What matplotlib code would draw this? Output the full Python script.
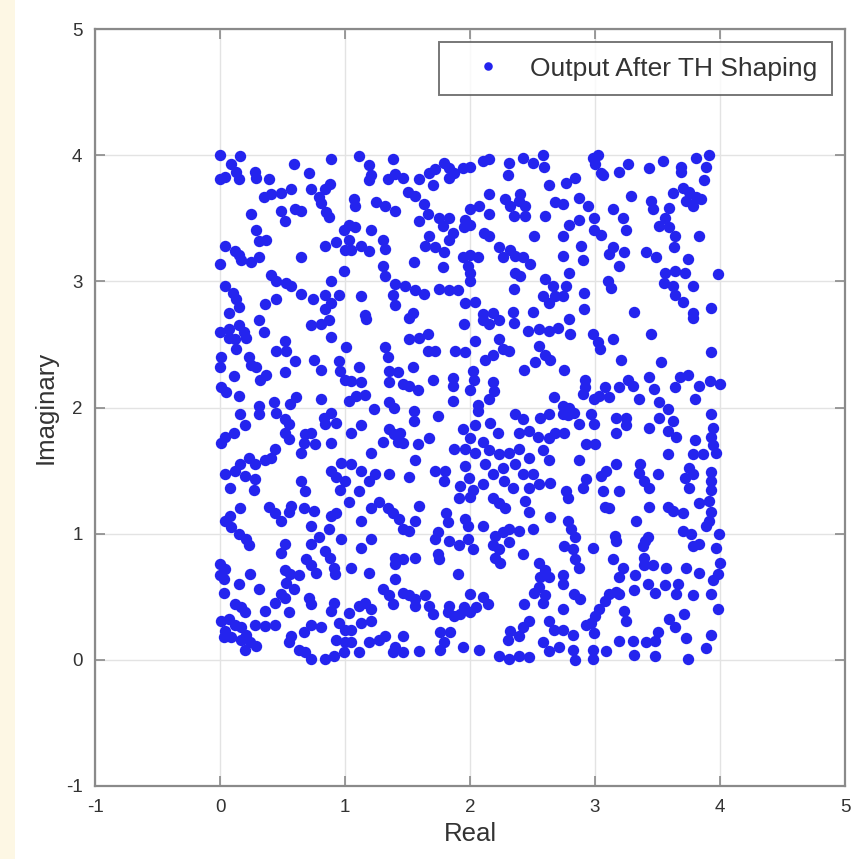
import numpy as np
import matplotlib
matplotlib.use("Agg")
import matplotlib.pyplot as plt
from matplotlib.patches import Rectangle

# ---------------- data (grouped by region) ----------------
re_t1 = [0.00,0.16,0.09,0.13,0.04,0.00,0.15,0.28,0.29,0.39,0.59,0.71,0.89,1.11,1.19,1.21,1.19,0.88,0.84,
         0.73,0.79,0.81,0.85,0.87,0.57,0.49,0.41,0.35,1.07,1.08,1.25,0.25,0.49,0.52,0.60,0.65,0.29,0.37,0.31,
         0.04,0.12,0.15,0.17,0.25,0.31,0.00,0.65,0.84,0.93,0.99,1.03,1.08,1.03,1.05,1.00,1.13,1.19,1.21,0.99,
         0.41,0.45,0.53,0.57,0.04,0.10,0.13,0.15,0.07,0.36,0.45,0.65,0.74,0.84,0.89,0.95,0.89,0.84,1.13,1.16]
im_t1 = [4.00,3.99,3.93,3.87,3.83,3.81,3.81,3.87,3.82,3.81,3.93,3.86,3.97,3.99,3.92,3.84,3.80,3.77,3.73,
         3.73,3.67,3.62,3.55,3.51,3.73,3.70,3.69,3.67,3.65,3.60,3.63,3.53,3.56,3.48,3.57,3.56,3.41,3.33,3.32,
         3.28,3.24,3.21,3.17,3.15,3.19,3.14,3.19,3.28,3.31,3.41,3.45,3.43,3.33,3.25,3.25,3.28,3.24,3.41,3.08,
         3.05,3.00,2.99,2.96,2.96,2.91,2.86,2.80,2.75,2.82,2.86,2.90,2.86,2.89,2.83,2.89,3.00,2.78,2.88,2.73]

re_t2 = [1.38,1.34,1.40,1.46,1.32,1.40,1.59,1.67,1.72,1.79,1.83,1.87,1.94,2.00,2.10,2.15,1.70,1.83,
         2.31,2.42,2.50,2.58,2.59,2.30,1.50,1.56,1.63,2.15,2.28,2.32,2.35,2.39,2.44,2.44,2.40,2.63,2.60,2.68,
         1.59,1.66,1.75,1.83,1.78,1.86,1.67,1.64,1.72,1.79,1.83,1.96,2.00,2.07,2.15,1.95,2.00,2.11,2.15,2.51,
         1.30,1.32,1.55,1.94,2.00,2.06,1.98,2.00,2.00,2.23,2.26,2.32,2.36,2.42,2.48,1.78,2.36,2.40,2.35,
         2.60,2.66,2.58,2.63,2.68,1.30,1.32,1.40,1.48,1.56,1.63,1.38,1.40,1.75,1.83,1.90,1.96,2.04,1.54,
         2.10,2.18,2.34,2.50]
im_t2 = [3.97,3.81,3.85,3.82,3.60,3.56,3.81,3.86,3.89,3.94,3.90,3.86,3.90,3.91,3.95,3.97,3.76,3.82,
         3.94,3.98,3.94,4.00,3.91,3.84,3.71,3.68,3.61,3.69,3.65,3.60,3.52,3.64,3.60,3.52,3.69,3.76,3.52,3.63,
         3.48,3.53,3.50,3.50,3.44,3.38,3.36,3.28,3.27,3.23,3.33,3.49,3.57,3.60,3.53,3.43,3.45,3.38,3.36,3.36,
         3.33,3.26,3.15,3.19,3.21,3.19,3.12,3.07,3.00,3.27,3.19,3.25,3.20,3.19,3.14,3.11,3.07,3.04,2.94,
         3.02,2.96,2.88,2.83,2.88,3.12,3.04,2.98,2.96,2.93,2.90,2.89,2.81,2.94,2.93,2.93,2.83,2.84,2.75,
         2.74,2.75,2.76,2.76]

re_t3 = [2.98,3.02,3.00,3.05,3.06,3.19,3.26,3.43,3.54,3.69,3.69,3.81,3.91,3.89,3.87,3.70,3.75,3.81,3.85,
         3.73,3.78,3.62,2.77,2.84,2.74,2.87,2.94,3.29,3.14,3.45,3.46,3.59,3.22,3.25,3.56,3.51,3.59,3.64,3.63,
         3.83,2.79,2.87,2.99,2.74,2.99,3.05,2.89,2.90,3.14,3.11,3.23,3.19,3.41,3.49,3.74,2.74,2.79,2.77,2.74,
         3.10,3.13,3.56,3.64,3.72,3.55,3.62,3.78,3.64,3.70,3.98,2.91,2.91,3.31,3.78,3.93]
im_t3 = [3.98,4.00,3.93,3.86,3.84,3.87,3.93,3.90,3.95,3.91,3.87,3.98,4.00,3.91,3.80,3.74,3.71,3.67,3.65,
         3.64,3.60,3.70,3.78,3.82,3.61,3.66,3.60,3.68,3.57,3.64,3.57,3.58,3.50,3.41,3.50,3.44,3.43,3.36,3.27,
         3.36,3.45,3.49,3.50,3.36,3.41,3.37,3.28,3.17,3.27,3.22,3.23,3.12,3.23,3.19,3.18,3.20,3.07,2.96,2.88,
         3.00,2.95,3.07,3.08,3.07,2.99,2.96,2.96,2.89,2.84,3.06,2.91,2.78,2.76,2.75,2.79]

re_t4 = [0.00,0.07,0.15,0.19,0.12,0.21,0.07,0.31,0.35,0.13,0.73,0.81,0.87,0.89,1.17,0.52,0.45,0.53,1.01,
         0.01,0.00,0.23,0.25,0.29,0.60,0.75,0.81,0.95,0.96,1.00,1.11,1.05,1.13,0.11,0.32,0.37,0.52,0.01,0.05,
         0.15,0.61,0.56,0.81,0.31,0.31,0.43,0.45,0.16,1.03,1.09,1.16,1.23,0.52,0.55,0.52,0.55,0.83,0.89,0.93,
         0.84,0.20,1.13,1.05,0.04,0.11,0.01,0.68,0.73,0.67,0.65,0.76,0.89,0.44,0.41,0.36,0.28,0.23,0.16,0.12,
         0.20,0.28,0.04,0.08,0.27,0.65,0.68,1.21,0.89,0.93,0.97,1.05,1.00,1.13,1.19,1.24,0.96,1.11]
im_t4 = [2.60,2.62,2.65,2.60,2.54,2.55,2.55,2.69,2.60,2.46,2.65,2.66,2.69,2.56,2.70,2.53,2.45,2.45,2.48,
         2.40,2.32,2.40,2.34,2.32,2.37,2.38,2.30,2.37,2.29,2.22,2.32,2.21,2.20,2.25,2.22,2.26,2.28,2.16,2.12,
         2.09,2.08,2.03,2.07,2.01,1.95,2.04,1.96,1.95,2.05,2.09,2.10,1.99,1.91,1.87,1.80,1.75,1.92,1.96,1.88,
         1.87,1.86,1.86,1.80,1.77,1.80,1.72,1.79,1.80,1.72,1.64,1.71,1.72,1.67,1.60,1.58,1.55,1.60,1.55,1.50,
         1.46,1.43,1.47,1.36,1.35,1.42,1.34,1.64,1.50,1.45,1.56,1.55,1.42,1.50,1.42,1.47,1.35,1.34]

re_t5 = [1.51,1.95,2.10,2.15,2.23,2.35,2.46,2.55,2.63,2.70,1.51,1.59,1.66,1.32,1.34,1.66,1.72,1.88,1.96,
         2.04,2.23,2.26,2.31,2.18,2.12,2.55,2.60,2.64,2.52,2.43,1.35,1.42,1.54,1.35,1.46,1.51,1.58,1.70,
         1.86,1.86,2.02,2.03,2.00,2.18,2.19,2.15,1.86,1.35,1.39,2.06,2.06,2.67,1.55,1.55,1.74,2.36,2.42,
         2.56,2.63,1.35,1.39,1.44,1.42,1.46,1.30,1.58,1.67,2.04,1.94,2.16,2.00,2.10,2.22,2.39,2.47,2.54,
         2.63,2.68,1.87,1.96,2.04,2.15,2.23,2.31,2.39,2.47,2.58,2.63,1.56,1.35,1.72,1.80,1.79,1.51,1.96,
         1.99,1.92,2.02,2.12,2.18,2.10,2.26,2.27,2.36,2.42,2.50,2.55,2.47,2.64,2.34]
im_t5 = [2.71,2.66,2.69,2.66,2.69,2.67,2.61,2.62,2.61,2.63,2.54,2.55,2.58,2.48,2.40,2.45,2.45,2.45,2.44,
         2.53,2.54,2.46,2.45,2.42,2.38,2.49,2.42,2.38,2.36,2.30,2.29,2.28,2.32,2.20,2.19,2.17,2.14,2.22,
         2.23,2.17,2.29,2.22,2.14,2.20,2.13,2.07,2.05,2.04,2.00,2.02,1.97,2.08,1.97,1.89,1.93,1.95,1.91,
         1.92,1.95,1.83,1.79,1.80,1.73,1.72,1.73,1.71,1.76,1.86,1.83,1.88,1.76,1.73,1.80,1.80,1.81,1.77,
         1.76,1.80,1.67,1.67,1.64,1.66,1.63,1.64,1.67,1.60,1.66,1.58,1.58,1.47,1.50,1.50,1.42,1.45,1.54,
         1.44,1.38,1.35,1.55,1.47,1.39,1.52,1.42,1.55,1.47,1.47,1.39,1.36,1.40,1.36]

re_t6 = [2.79,2.80,2.98,3.02,3.04,3.14,3.45,3.78,3.93,3.21,3.53,2.75,2.92,2.92,2.90,2.99,3.03,3.08,3.11,
         3.19,3.26,3.30,3.35,3.43,3.47,3.64,3.68,3.74,3.83,3.92,4.00,3.80,3.51,3.58,3.51,2.74,2.79,2.83,
         2.74,2.78,2.97,2.99,2.87,3.17,3.25,3.25,3.17,3.43,3.62,3.58,3.65,3.93,3.94,3.93,2.75,2.93,3.00,
         3.80,3.94,3.78,3.86,3.97,3.58,2.87,3.17,3.09,3.05,2.93,2.90,3.36,3.35,3.39,3.50,3.43,3.75,3.78,
         3.72,3.75,3.93,3.93,3.93,3.06,3.19,2.77]
im_t6 = [2.70,2.58,2.58,2.52,2.46,2.54,2.58,2.71,2.44,2.38,2.36,2.30,2.22,2.16,2.11,2.07,2.09,2.16,2.08,
         2.16,2.22,2.17,2.07,2.24,2.15,2.16,2.24,2.26,2.17,2.21,2.19,2.07,2.04,1.99,1.92,2.01,2.00,1.96,
         1.95,1.94,1.95,1.87,1.87,1.92,1.92,1.86,1.80,1.84,1.89,1.81,1.77,1.95,1.84,1.77,1.80,1.71,1.71,
         1.74,1.70,1.63,1.63,1.64,1.63,1.58,1.55,1.50,1.46,1.43,1.36,1.55,1.48,1.42,1.47,1.36,1.52,1.47,
         1.44,1.36,1.49,1.42,1.35,1.34,1.34,1.34]

re_t7 = [0.16,0.08,0.04,0.09,0.15,0.21,0.23,0.39,0.44,0.49,0.55,0.57,0.67,0.75,0.73,0.89,0.93,0.87,0.79,
         0.73,1.03,1.13,1.21,1.27,0.97,1.13,1.21,0.52,0.49,0.84,0.88,0.91,0.92,0.69,0.73,0.77,0.00,0.00,
         0.04,0.03,0.24,0.52,0.56,0.63,0.53,0.59,1.05,1.19,0.15,0.31,0.03,0.49,0.44,0.52,0.71,0.73,0.91,
         0.89,0.12,0.17,0.20,0.36,0.55,1.11,1.16,1.21,1.03,0.01,0.07,0.12,0.04,0.17,0.28,0.36,0.44,0.73,
         0.81,0.67,0.57,0.55,0.95,1.00,1.05,1.13,1.21,0.93,1.00,1.05,0.03,0.09,0.17,0.21,0.24,0.20,0.29,
         0.63,0.68,0.73,0.84,0.91,0.99,1.11,1.19,1.27]
im_t7 = [1.20,1.14,1.10,1.05,1.00,0.96,0.91,1.21,1.16,1.10,1.17,1.22,1.20,1.18,1.06,1.14,1.16,1.04,0.97,
         0.92,1.25,1.10,1.20,1.25,0.96,0.89,0.96,0.92,0.85,0.86,0.81,0.73,0.68,0.80,0.75,0.69,0.76,0.67,
         0.72,0.64,0.68,0.71,0.68,0.67,0.61,0.56,0.73,0.69,0.60,0.56,0.53,0.52,0.45,0.49,0.49,0.44,0.45,
         0.39,0.44,0.42,0.38,0.39,0.38,0.43,0.45,0.40,0.37,0.31,0.32,0.28,0.23,0.26,0.28,0.27,0.28,0.28,
         0.26,0.22,0.19,0.14,0.29,0.24,0.24,0.29,0.31,0.16,0.14,0.14,0.18,0.18,0.16,0.20,0.14,0.08,0.11,
         0.08,0.06,0.01,0.01,0.03,0.06,0.06,0.14,0.16]

re_t8 = [1.34,1.38,1.43,1.59,1.56,1.46,1.51,1.91,2.00,2.18,2.23,2.28,2.44,2.47,2.64,1.81,1.82,1.74,1.72,
         1.96,1.98,2.10,1.83,1.91,1.98,2.02,1.74,1.75,2.20,2.26,2.31,2.39,2.50,2.18,2.23,2.20,2.24,2.31,
         2.42,1.40,1.46,1.56,1.40,1.90,2.55,2.60,2.56,2.63,1.40,1.30,1.35,1.38,1.46,1.51,1.56,1.56,1.64,
         1.67,1.70,2.00,2.10,2.14,2.05,1.83,1.82,1.87,1.92,1.95,2.00,2.43,2.51,2.55,2.60,2.58,2.47,2.42,
         2.32,2.30,2.39,2.63,2.67,2.58,2.63,2.71,1.32,1.46,1.40,1.38,1.46,1.59,1.76,1.84,1.79,1.76,1.94,
         2.07,2.23,2.31,2.39,2.47]
im_t8 = [1.20,1.16,1.12,1.22,1.10,1.04,1.02,1.28,1.29,1.28,1.24,1.20,1.26,1.17,1.13,1.16,1.09,1.01,0.96,
         1.12,1.06,1.06,0.94,0.91,0.96,0.88,0.84,0.80,0.98,1.01,1.04,1.02,1.04,0.91,0.88,0.81,0.77,0.93,
         0.84,0.81,0.80,0.81,0.76,0.68,0.77,0.71,0.66,0.66,0.64,0.56,0.51,0.44,0.53,0.51,0.48,0.43,0.51,
         0.43,0.36,0.52,0.50,0.44,0.42,0.43,0.38,0.35,0.36,0.42,0.38,0.44,0.53,0.58,0.51,0.45,0.31,0.26,
         0.23,0.16,0.19,0.31,0.24,0.14,0.07,0.10,0.19,0.19,0.10,0.06,0.06,0.07,0.22,0.22,0.14,0.08,0.10,
         0.08,0.03,0.01,0.03,0.02]

re_t9 = [2.78,3.08,3.11,3.43,3.58,3.62,3.70,3.83,3.91,3.93,3.91,3.89,3.33,2.78,2.81,2.84,2.82,2.75,2.98,
         3.16,3.17,3.40,3.42,3.38,3.70,3.77,3.78,3.83,3.99,3.97,2.87,2.84,3.14,3.22,3.39,3.39,3.46,3.57,
         3.73,3.83,4.00,3.98,3.94,2.74,2.74,3.19,3.32,3.42,3.48,3.56,3.66,3.65,3.78,3.93,3.98,2.83,2.88,
         3.11,3.17,3.19,3.08,3.31,2.74,3.03,3.00,2.93,2.97,3.23,3.25,3.59,3.64,3.71,2.74,2.82,2.99,3.19,
         3.30,3.41,3.50,3.48,3.73,3.93,3.89,2.82,2.84,2.98,3.09,2.98,3.31,3.48,3.74]
im_t9 = [1.28,1.21,1.20,1.21,1.21,1.18,1.16,1.24,1.26,1.17,1.10,1.06,1.10,1.10,1.04,0.97,0.88,0.90,0.89,
         0.98,0.94,0.94,0.97,0.90,1.02,1.00,0.90,0.92,1.00,0.89,0.73,0.80,0.80,0.73,0.81,0.75,0.75,0.73,
         0.73,0.69,0.77,0.68,0.63,0.67,0.60,0.66,0.67,0.60,0.53,0.59,0.60,0.52,0.51,0.52,0.40,0.52,0.48,
         0.52,0.54,0.52,0.47,0.55,0.40,0.40,0.35,0.28,0.29,0.39,0.31,0.32,0.26,0.36,0.24,0.20,0.21,0.15,
         0.15,0.14,0.22,0.15,0.17,0.20,0.09,0.08,0.00,0.08,0.07,0.01,0.04,0.03,0.01]

real_parts = [re_t1, re_t2, re_t3, re_t4, re_t5, re_t6, re_t7, re_t8, re_t9]
imag_parts = [im_t1, im_t2, im_t3, im_t4, im_t5, im_t6, im_t7, im_t8, im_t9]
for r, i in zip(real_parts, imag_parts):
    assert len(r) == len(i), (len(r), len(i))

x = np.clip(np.concatenate(real_parts), 0, 4)
y = np.clip(np.concatenate(imag_parts), 0, 4)

series_label = "Output After TH Shaping"
x_label = "Real"
y_label = "Imaginary"
ticks = [-1, 0, 1, 2, 3, 4, 5]

# ---------------- figure ----------------
plt.rcParams['font.family'] = ['Liberation Sans', 'DejaVu Sans']
plt.rcParams['axes.unicode_minus'] = False

W, H = 868, 859
fig = plt.figure(figsize=(W / 100, H / 100), dpi=100)
fig.patch.set_facecolor('white')
fig.patches.append(Rectangle((0, 0), 15 / W, 1, transform=fig.transFigure,
                             facecolor='#fdf7e4', edgecolor='none', zorder=0))

ax = fig.add_axes([95 / W, 1 - 786 / H, (845 - 95) / W, (786 - 29) / H])
ax.set_facecolor('white')

ax.plot(x, y, linestyle='none', marker='o', markersize=8.2, color='#2424ee',
        markeredgewidth=0, label=series_label, zorder=3)

ax.set_xlim(-1, 5)
ax.set_ylim(-1, 5)
ax.set_xticks(ticks)
ax.set_yticks(ticks)
ax.grid(True, color='#e3e3e3', linewidth=1.0, linestyle='-')
ax.set_axisbelow(True)

for s in ax.spines.values():
    s.set_color('#8a8a8a')
    s.set_linewidth(1.6)

ax.tick_params(direction='in', length=7, width=1.2, color='#8a8a8a',
               labelsize=13.5, labelcolor='#333333', pad=9,
               top=True, right=True)

ax.set_xlabel(x_label, fontsize=18.5, color='#333333', labelpad=5)
ax.set_ylabel(y_label, fontsize=18.5, color='#333333', labelpad=6)

leg = ax.legend(loc='upper right', fontsize=19, frameon=True, fancybox=False,
                borderaxespad=0.5, handletextpad=0.3, borderpad=0.55,
                markerscale=0.75, handlelength=2.6)
leg.get_frame().set_edgecolor('#555555')
leg.get_frame().set_linewidth(1.4)
for t in leg.get_texts():
    t.set_color('#333333')

fig.savefig('out.png', dpi=100)
